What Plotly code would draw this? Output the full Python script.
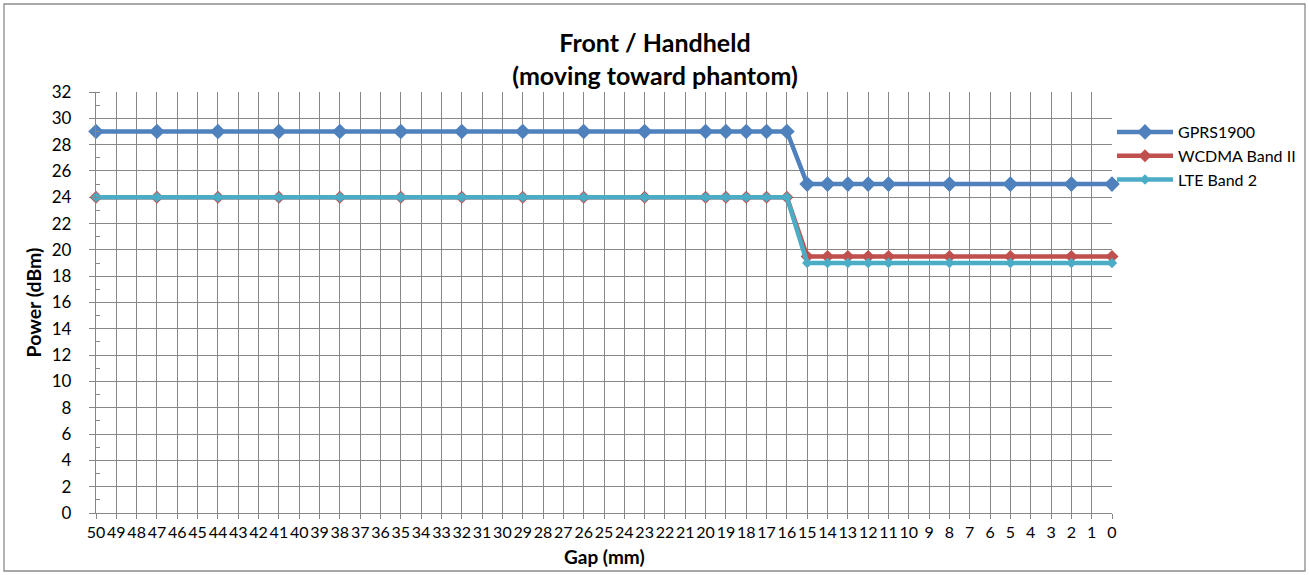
import plotly.graph_objects as go

categories = [str(v) for v in range(50, -1, -1)]
gap_points = ["50", "47", "44", "41", "38", "35", "32", "29", "26", "23", "20", "19", "18",
              "17", "16", "15", "14", "13", "12", "11", "8", "5", "2", "0"]
gprs1900 = [29, 29, 29, 29, 29, 29, 29, 29, 29, 29, 29, 29, 29, 29, 29,
            25, 25, 25, 25, 25, 25, 25, 25, 25]
wcdma_band2 = [24, 24, 24, 24, 24, 24, 24, 24, 24, 24, 24, 24, 24, 24, 24,
               19.5, 19.5, 19.5, 19.5, 19.5, 19.5, 19.5, 19.5, 19.5]
lte_band2 = [24, 24, 24, 24, 24, 24, 24, 24, 24, 24, 24, 24, 24, 24, 24,
             19, 19, 19, 19, 19, 19, 19, 19, 19]
y_ticks = list(range(0, 33, 2))

FONT = "Lato, 'Open Sans', sans-serif"
W, H = 1309, 575
L, R, T, B = 96, 197, 92, 62
GRID = "#878787"

fig = go.Figure()
fig.add_trace(go.Scatter(x=gap_points, y=gprs1900, name="GPRS1900", mode="lines+markers",
                         line=dict(color="#4F81BD", width=4.5),
                         marker=dict(symbol="diamond", size=12, color="#4F81BD"),
                         cliponaxis=False))
fig.add_trace(go.Scatter(x=gap_points, y=wcdma_band2, name="WCDMA Band II", mode="lines+markers",
                         line=dict(color="#C0504D", width=4.5),
                         marker=dict(symbol="diamond", size=10, color="#C0504D"),
                         cliponaxis=False))
fig.add_trace(go.Scatter(x=gap_points, y=lte_band2, name="LTE Band 2", mode="lines+markers",
                         line=dict(color="#4BACC6", width=4.5),
                         marker=dict(symbol="diamond", size=8, color="#4BACC6"),
                         cliponaxis=False))

pw = W - L - R
ph = H - T - B
fig.add_shape(type="rect", xref="paper", yref="paper",
              x0=(4 - L) / pw, x1=(1305 - L) / pw,
              y0=-(571 - (T + ph)) / ph, y1=1 + (T - 4) / ph,
              line=dict(color="#8C8C8C", width=1.3), layer="below")

fig.add_annotation(text="<b>Gap (mm)</b>", xref="paper", yref="paper",
                   x=0.5, y=-(556 - (T + ph)) / ph, xanchor="center", yanchor="middle",
                   showarrow=False, font=dict(family=FONT, size=19, color="black"))

fig.update_layout(
    width=W, height=H,
    margin=dict(l=L, r=R, t=T, b=B, autoexpand=False),
    paper_bgcolor="white", plot_bgcolor="white",
    font=dict(family=FONT, size=17, color="black"),
    title=dict(text="<b>Front / Handheld<br>(moving toward phantom)</b>",
               x=655 / W, xanchor="center", y=1 - 52 / H, yanchor="top",
               font=dict(family=FONT, size=25, color="black")),
    showlegend=True,
    legend=dict(x=(1112 - L) / pw, xanchor="left", y=1 + (T - 115) / ph, yanchor="top",
                font=dict(family=FONT, size=16, color="black"),
                bgcolor="rgba(0,0,0,0)", itemwidth=56, tracegroupgap=0),
)
fig.update_xaxes(
    type="category", categoryorder="array", categoryarray=categories,
    range=[0, 50], tickvals=categories, ticktext=categories,
    showgrid=True, gridcolor=GRID, gridwidth=1.3,
    showline=True, linecolor=GRID, linewidth=1.3,
    ticks="outside", ticklen=5, tickcolor=GRID, tickwidth=1.3,
    tickangle=0, tickfont=dict(family=FONT, size=16), ticklabelstandoff=0,
    zeroline=False, automargin=False,
)
fig.update_yaxes(
    range=[0, 32], tickvals=y_ticks,
    showgrid=True, gridcolor=GRID, gridwidth=1.3,
    showline=True, linecolor=GRID, linewidth=1.3,
    ticks="outside", ticklen=6, tickcolor=GRID, tickwidth=1.3,
    minor=dict(dtick=1, tick0=1, ticks="inside", ticklen=4, tickcolor=GRID, showgrid=False),
    tickfont=dict(family=FONT, size=17), ticklabelstandoff=14,
    title=dict(text="<b>Power (dBm)</b>", font=dict(family=FONT, size=19.5), standoff=4),
    zeroline=False, automargin=False,
)

fig.write_html("out.html", config={"displayModeBar": False},
               post_script="document.body.style.margin='0px';")
